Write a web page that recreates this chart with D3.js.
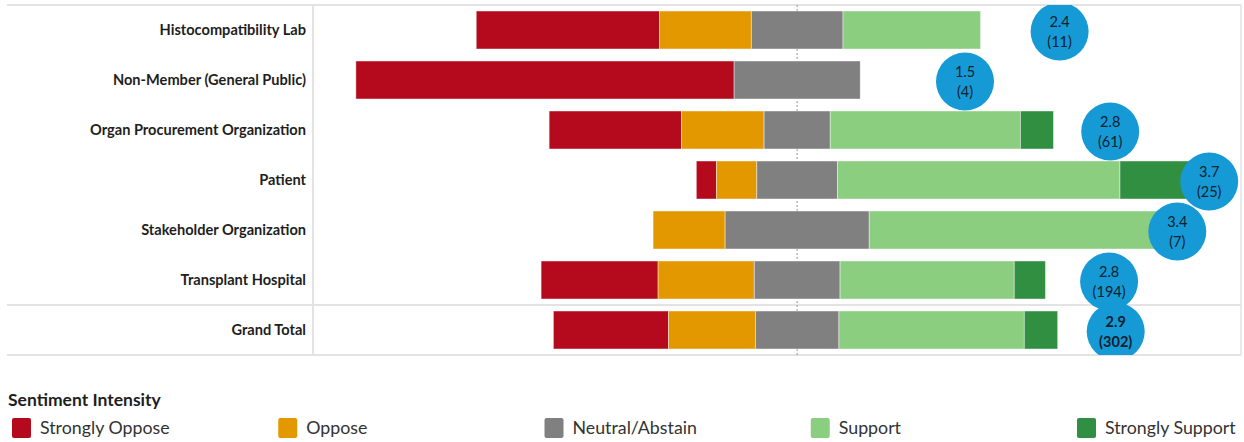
<!DOCTYPE html>
<html>
<head>
<meta charset="utf-8">
<script src="https://cdn.jsdelivr.net/npm/d3@7"></script>
<style>
  html, body { margin: 0; padding: 0; background: #fff; }
  svg { display: block; }
</style>
</head>
<body>
<svg id="chart" width="1244" height="442"></svg>
<script>
const categories = ["Histocompatibility Lab", "Non-Member (General Public)", "Organ Procurement Organization", "Patient", "Stakeholder Organization", "Transplant Hospital", "Grand Total"];
const stronglyOppose  = [4, 3, 16, 1, 0, 45, 69];
const oppose          = [2, 0, 10, 2, 1, 37, 52];
const neutral         = [2, 1, 8, 4, 2, 33, 50];
const support         = [3, 0, 23, 14, 4, 67, 111];
const stronglySupport = [0, 0, 4, 4, 0, 12, 20];
const avgScore  = [2.36, 1.5, 2.82, 3.72, 3.43, 2.81, 2.87];
const responses = [11, 4, 61, 25, 7, 194, 302];
const seriesNames = ["Strongly Oppose", "Oppose", "Neutral/Abstain", "Support", "Strongly Support"];
const seriesColors = ["#B5091E", "#E49800", "#808080", "#8BCE7F", "#308F40"];
const legendTitle = "Sentiment Intensity";

const series = [stronglyOppose, oppose, neutral, support, stronglySupport];
const svg = d3.select("#chart");
const font = "Lato, 'Open Sans', sans-serif";

const plot = { left: 313, right: 1241, top: 5, bottom: 355, labelLeft: 7 };

const x = d3.scaleLinear().domain([-96, 88]).range([plot.left, plot.right]);
const xScore = d3.scaleLinear().domain([0, 4]).range([800, 1240]);
const y = d3.scaleBand().domain(categories).range([plot.top, plot.bottom])
  .paddingInner(0.24).paddingOuter(0.12);
const rowY = d3.scaleBand().domain(categories).range([plot.top, plot.bottom]);

// build segments
const rows = categories.map((c, i) => {
  const counts = series.map(s => s[i]);
  const total = d3.sum(counts);
  const pct = counts.map(v => v / total * 100);
  let start = -(pct[0] + pct[1] + pct[2] / 2);
  const segs = pct.map((p, k) => {
    const s = { cat: c, k, x0: start, x1: start + p, v: p };
    start += p;
    return s;
  });
  return { cat: c, segs };
});

// grid lines
const grid = svg.append("g");
grid.append("line").attr("x1", plot.left).attr("x2", plot.left)
  .attr("y1", plot.top).attr("y2", plot.bottom)
  .attr("stroke", "#e3e3e3").attr("stroke-width", 2);
grid.append("line").attr("x1", plot.right).attr("x2", plot.right)
  .attr("y1", plot.top).attr("y2", plot.bottom)
  .attr("stroke", "#e3e3e3").attr("stroke-width", 1.5);
[plot.top, rowY("Grand Total"), plot.bottom].forEach(yy => {
  grid.append("line").attr("x1", plot.labelLeft).attr("x2", plot.right)
    .attr("y1", yy).attr("y2", yy)
    .attr("stroke", "#e3e3e3").attr("stroke-width", 2);
});
// center dotted line
grid.append("line").attr("x1", x(0)).attr("x2", x(0))
  .attr("y1", plot.top).attr("y2", plot.bottom)
  .attr("stroke", "#b5b5b5").attr("stroke-width", 1.5)
  .attr("stroke-dasharray", "2,2");

// bars
const bars = svg.append("g");
rows.forEach(r => {
  bars.selectAll(null).data(r.segs.filter(s => s.v > 0)).enter().append("rect")
    .attr("x", d => x(d.x0))
    .attr("width", d => x(d.x1) - x(d.x0))
    .attr("y", y(r.cat))
    .attr("height", y.bandwidth())
    .attr("fill", d => seriesColors[d.k])
    .attr("stroke", "#ffffff").attr("stroke-opacity", 0.55).attr("stroke-width", 0.8);
});

// category labels
svg.append("g").selectAll("text").data(categories).enter().append("text")
  .attr("x", 306)
  .attr("y", d => rowY(d) + rowY.bandwidth() / 2)
  .attr("dy", "0.35em")
  .attr("text-anchor", "end")
  .attr("font-family", font).attr("font-weight", "bold").attr("font-size", 14.6)
  .attr("fill", "#1e1e1e")
  .text(d => d);

// bubbles
svg.append("clipPath").attr("id", "plotClip").append("rect")
  .attr("x", plot.left).attr("y", plot.top)
  .attr("width", plot.right - plot.left).attr("height", plot.bottom - plot.top);
const bub = svg.append("g").attr("clip-path", "url(#plotClip)");
categories.forEach((c, i) => {
  const cx = xScore(avgScore[i]);
  const cy = rowY(c) + rowY.bandwidth() / 2 + 1.5;
  const g = bub.append("g");
  g.append("circle").attr("cx", cx).attr("cy", cy).attr("r", 29).attr("fill", "#159AD6");
  const bold = c === "Grand Total";
  g.append("text").attr("x", cx).attr("y", cy - 10).attr("dy", "0.35em")
    .attr("text-anchor", "middle").attr("font-family", font).attr("font-size", 14.5)
    .attr("font-weight", bold ? "bold" : "normal").attr("fill", "#10202e")
    .text(avgScore[i].toFixed(1));
  g.append("text").attr("x", cx).attr("y", cy + 10).attr("dy", "0.35em")
    .attr("text-anchor", "middle").attr("font-family", font).attr("font-size", 14.5)
    .attr("font-weight", bold ? "bold" : "normal").attr("fill", "#10202e")
    .text("(" + responses[i] + ")");
});

// legend
const leg = svg.append("g");
leg.append("text").attr("x", 8).attr("y", 406)
  .attr("font-family", font).attr("font-weight", "bold").attr("font-size", 17.5)
  .attr("fill", "#1e1e1e").text(legendTitle);
const legX = d3.scalePoint().domain(seriesNames).range([12, 1077]);
const items = leg.selectAll("g.item").data(seriesNames).enter().append("g")
  .attr("transform", d => `translate(${legX(d)},418)`);
items.append("rect").attr("width", 19).attr("height", 20).attr("rx", 2)
  .attr("fill", (d, i) => seriesColors[i]);
items.append("text").attr("x", 28).attr("y", 10).attr("dy", "0.35em")
  .attr("font-family", font).attr("font-size", 17.8).attr("fill", "#333")
  .text(d => d);
</script>
</body>
</html>
